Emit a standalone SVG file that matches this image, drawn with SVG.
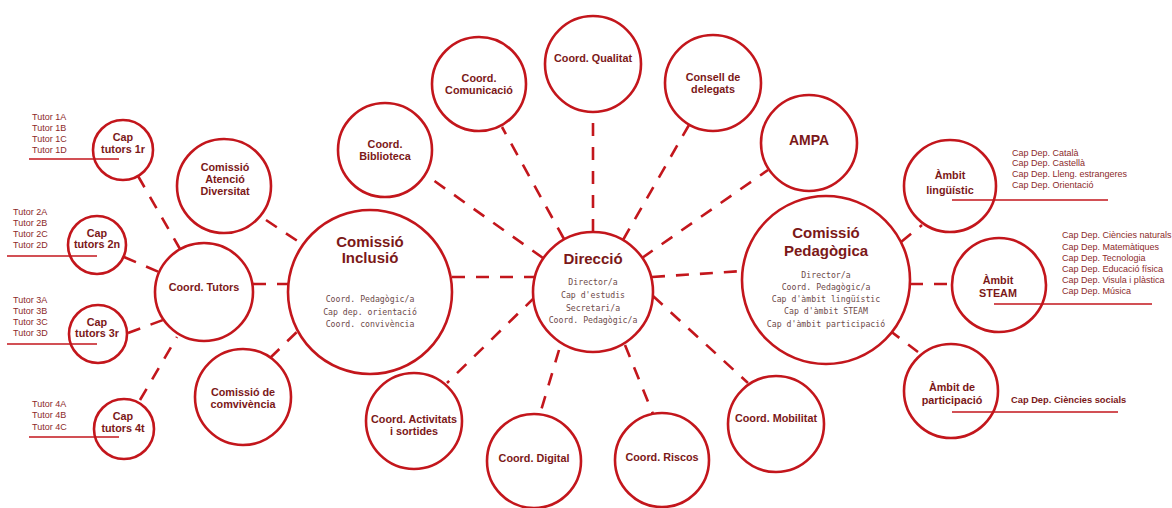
<svg xmlns="http://www.w3.org/2000/svg" width="1172" height="508" viewBox="0 0 1172 508">
<style>
.n{fill:#fff;stroke:#c3161c;stroke-width:2.6}
.t{font-family:"Liberation Sans",Arial,sans-serif;font-weight:bold;fill:#7b1818;text-anchor:middle;font-size:10.8px}
.big{font-size:15px}
.m{font-family:"DejaVu Sans Mono","Liberation Mono",monospace;fill:#6e4a4a;text-anchor:middle;font-size:8.2px}
.l{font-family:"Liberation Sans",Arial,sans-serif;fill:#8c2a2a;font-size:9px}
.u{stroke:#c3161c;stroke-width:1.3}
.c line{stroke:#c3161c;stroke-width:2.6;stroke-dasharray:13 11;fill:none}
</style>
<rect width="1172" height="508" fill="#fff"/>
<g id="connectors" class="c">
<line x1="593" y1="232" x2="593" y2="113"/>
<line x1="564" y1="239" x2="502" y2="127"/>
<line x1="543" y1="258" x2="426" y2="175"/>
<line x1="623" y1="240" x2="689" y2="125"/>
<line x1="642" y1="258" x2="768" y2="170"/>
<line x1="452" y1="277" x2="535" y2="277"/>
<line x1="652" y1="277" x2="743" y2="271"/>
<line x1="535" y1="297" x2="447" y2="383"/>
<line x1="559" y1="350" x2="540" y2="414"/>
<line x1="625" y1="345" x2="653" y2="414"/>
<line x1="653" y1="296" x2="748" y2="383"/>
<line x1="253" y1="284" x2="289" y2="284"/>
<line x1="138" y1="176" x2="180" y2="249"/>
<line x1="124" y1="257" x2="159" y2="272"/>
<line x1="128" y1="333" x2="163" y2="320"/>
<line x1="140" y1="400" x2="177" y2="337"/>
<line x1="266" y1="220" x2="302" y2="244"/>
<line x1="270" y1="358" x2="302" y2="327"/>
<line x1="901" y1="242" x2="922" y2="225"/>
<line x1="910" y1="284" x2="952" y2="284"/>
<line x1="889" y1="330" x2="918" y2="352"/>
</g>
<g id="cap1"><circle class="n" cx="123" cy="150" r="30"/><text class="t" x="123" y="141">Cap</text><text class="t" x="123" y="153">tutors 1r</text>
<text class="l" x="32" y="120">Tutor 1A</text><text class="l" x="32" y="131">Tutor 1B</text><text class="l" x="32" y="142">Tutor 1C</text><text class="l" x="32" y="153">Tutor 1D</text><line class="u" x1="29" y1="159" x2="119" y2="159"/></g>
<g id="cap2"><circle class="n" cx="97" cy="245" r="29"/><text class="t" x="97" y="237">Cap</text><text class="t" x="97" y="248">tutors 2n</text>
<text class="l" x="13" y="215">Tutor 2A</text><text class="l" x="13" y="226">Tutor 2B</text><text class="l" x="13" y="237">Tutor 2C</text><text class="l" x="13" y="248">Tutor 2D</text><line class="u" x1="7" y1="256" x2="97" y2="256"/></g>
<g id="cap3"><circle class="n" cx="98" cy="334" r="29"/><text class="t" x="97" y="326">Cap</text><text class="t" x="97" y="337">tutors 3r</text>
<text class="l" x="13" y="303">Tutor 3A</text><text class="l" x="13" y="314">Tutor 3B</text><text class="l" x="13" y="325">Tutor 3C</text><text class="l" x="13" y="336">Tutor 3D</text><line class="u" x1="7" y1="344" x2="97" y2="344"/></g>
<g id="cap4"><circle class="n" cx="124" cy="429" r="30"/><text class="t" x="123" y="420">Cap</text><text class="t" x="123" y="432">tutors 4t</text>
<text class="l" x="32" y="407">Tutor 4A</text><text class="l" x="32" y="418">Tutor 4B</text><text class="l" x="32" y="430">Tutor 4C</text><line class="u" x1="29" y1="437" x2="119" y2="437"/></g>
<g id="diversitat"><circle class="n" cx="224" cy="186" r="47"/><text class="t" x="225" y="171">Comissió</text><text class="t" x="225" y="183">Atenció</text><text class="t" x="225" y="195">Diversitat</text></g>
<g id="tutors"><circle class="n" cx="204" cy="292" r="49"/><text class="t" x="204" y="291">Coord. Tutors</text></g>
<g id="convivencia"><circle class="n" cx="243" cy="397" r="48"/><text class="t" x="243" y="396">Comissió de</text><text class="t" x="243" y="408">comvivència</text></g>
<g id="inclusio"><circle class="n" cx="370" cy="292" r="82"/><text class="t big" x="370" y="247">Comissió</text><text class="t big" x="370" y="263">Inclusió</text>
<text class="m" x="370" y="302">Coord. Pedagògic/a</text><text class="m" x="370" y="315">Cap dep. orientació</text><text class="m" x="370" y="327">Coord. convivència</text></g>
<g id="direccio"><circle class="n" cx="593" cy="292" r="60"/><text class="t big" x="593" y="264">Direcció</text>
<text class="m" x="593" y="285">Director/a</text><text class="m" x="593" y="298">Cap d'estudis</text><text class="m" x="593" y="311">Secretari/a</text><text class="m" x="593" y="323">Coord. Pedagògic/a</text></g>
<g id="pedagogica"><circle class="n" cx="826" cy="280" r="84"/><text class="t big" x="826" y="238">Comissió</text><text class="t big" x="826" y="256">Pedagògica</text>
<text class="m" x="826" y="278">Director/a</text><text class="m" x="826" y="290">Coord. Pedagògic/a</text><text class="m" x="826" y="302">Cap d'àmbit lingüístic</text><text class="m" x="826" y="314">Cap d'àmbit STEAM</text><text class="m" x="826" y="327">Cap d'àmbit participació</text></g>
<g id="linguistic"><circle class="n" cx="950" cy="186" r="46"/><text class="t" x="950" y="179">Àmbit</text><text class="t" x="950" y="194">lingüístic</text>
<text class="l" x="1012" y="156">Cap Dep. Català</text><text class="l" x="1012" y="166">Cap Dep. Castellà</text><text class="l" x="1012" y="177">Cap Dep. Lleng. estrangeres</text><text class="l" x="1012" y="188">Cap Dep. Orientació</text><line class="u" x1="952" y1="200" x2="1108" y2="200"/></g>
<g id="steam"><circle class="n" cx="999" cy="285" r="47"/><text class="t" x="998" y="284">Àmbit</text><text class="t" x="998" y="297">STEAM</text>
<text class="l" x="1062" y="238">Cap Dep. Ciències naturals</text><text class="l" x="1062" y="250">Cap Dep. Matemàtiques</text><text class="l" x="1062" y="261">Cap Dep. Tecnologia</text><text class="l" x="1062" y="272">Cap Dep. Educació física</text><text class="l" x="1062" y="283">Cap Dep. Visula i plàstica</text><text class="l" x="1062" y="294">Cap Dep. Música</text><line class="u" x1="994" y1="304" x2="1152" y2="304"/></g>
<g id="participacio"><circle class="n" cx="951" cy="391" r="47"/><text class="t" x="952" y="391">Àmbit de</text><text class="t" x="952" y="404">participació</text>
<text class="t" x="1011" y="403" style="text-anchor:start;font-size:9.3px">Cap Dep. Ciències socials</text><line class="u" x1="952" y1="412" x2="1118" y2="412"/></g>
<g id="biblioteca"><circle class="n" cx="385" cy="150" r="47"/><text class="t" x="385" y="148">Coord.</text><text class="t" x="385" y="160">Biblioteca</text></g>
<g id="comunicacio"><circle class="n" cx="479" cy="84" r="47"/><text class="t" x="479" y="82">Coord.</text><text class="t" x="479" y="94">Comunicació</text></g>
<g id="qualitat"><circle class="n" cx="593" cy="64" r="48"/><text class="t" x="593" y="62">Coord. Qualitat</text></g>
<g id="consell"><circle class="n" cx="713" cy="83" r="48"/><text class="t" x="713" y="81">Consell de</text><text class="t" x="713" y="93">delegats</text></g>
<g id="ampa"><circle class="n" cx="809" cy="143" r="48"/><text class="t" x="809" y="145" style="font-size:14px">AMPA</text></g>
<g id="activitats"><circle class="n" cx="414" cy="421" r="48"/><text class="t" x="414" y="423">Coord. Activitats</text><text class="t" x="414" y="435">i sortides</text></g>
<g id="digital"><circle class="n" cx="534" cy="461" r="47"/><text class="t" x="534" y="462">Coord. Digital</text></g>
<g id="riscos"><circle class="n" cx="662" cy="460" r="47"/><text class="t" x="662" y="461">Coord. Riscos</text></g>
<g id="mobilitat"><circle class="n" cx="776" cy="424" r="48"/><text class="t" x="776" y="422">Coord. Mobilitat</text></g>
</svg>
